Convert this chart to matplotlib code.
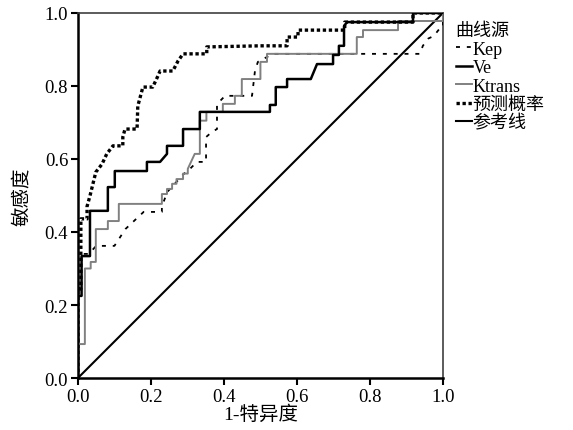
import matplotlib
matplotlib.use("Agg")
import matplotlib.pyplot as plt

plt.rcParams['font.family'] = ['Liberation Serif', 'Noto Sans CJK SC']

# ROC step curves: (1-specificity, sensitivity)
kep_fpr = [0, 0, 0.03, 0.05, 0.10, 0.13, 0.18, 0.23, 0.23, 0.245, 0.29, 0.307, 0.326, 0.351, 0.351,
           0.367, 0.381, 0.381, 0.403, 0.477, 0.485, 0.493, 0.534, 0.937, 0.945, 0.96, 0.975, 0.99, 1.0, 1.0]
kep_tpr = [0, 0.34, 0.34, 0.362, 0.362, 0.408, 0.455, 0.455, 0.47, 0.51, 0.559, 0.573, 0.592, 0.592, 0.66,
           0.674, 0.682, 0.75, 0.773, 0.773, 0.841, 0.866, 0.888, 0.888, 0.91, 0.93, 0.937, 0.956, 0.96, 1.0]

ve_fpr = [0, 0, 0.01, 0.01, 0.033, 0.033, 0.082, 0.082, 0.101, 0.101, 0.189, 0.189, 0.225, 0.244, 0.244,
          0.288, 0.288, 0.334, 0.334, 0.526, 0.526, 0.542, 0.542, 0.573, 0.573, 0.638, 0.655, 0.699, 0.699,
          0.715, 0.715, 0.729, 0.729, 0.737, 0.918, 0.918, 1.0]
ve_tpr = [0, 0.225, 0.225, 0.334, 0.334, 0.458, 0.458, 0.523, 0.523, 0.567, 0.567, 0.592, 0.592, 0.614, 0.636,
          0.636, 0.682, 0.682, 0.729, 0.729, 0.748, 0.748, 0.797, 0.797, 0.819, 0.819, 0.86, 0.86, 0.885,
          0.885, 0.91, 0.91, 0.964, 0.975, 0.975, 1.0, 1.0]

ktrans_fpr = [0, 0, 0.019, 0.019, 0.035, 0.035, 0.049, 0.049, 0.082, 0.082, 0.112, 0.112, 0.23, 0.23,
              0.244, 0.244, 0.258, 0.258, 0.27, 0.27, 0.288, 0.288, 0.301, 0.301, 0.32, 0.334, 0.334,
              0.352, 0.352, 0.397, 0.397, 0.43, 0.43, 0.449, 0.449, 0.50, 0.50, 0.518, 0.518, 0.764,
              0.764, 0.781, 0.781, 0.877, 0.877, 1.0, 1.0]
ktrans_tpr = [0, 0.093, 0.093, 0.30, 0.30, 0.318, 0.318, 0.408, 0.408, 0.43, 0.43, 0.477, 0.477, 0.504,
              0.504, 0.518, 0.518, 0.532, 0.532, 0.545, 0.545, 0.56, 0.56, 0.573, 0.614, 0.614, 0.705,
              0.705, 0.729, 0.729, 0.751, 0.751, 0.773, 0.773, 0.819, 0.819, 0.866, 0.866, 0.888, 0.888,
              0.934, 0.934, 0.953, 0.953, 0.978, 0.978, 1.0]

pred_fpr = [0, 0, 0.008, 0.008, 0.025, 0.025, 0.033, 0.049, 0.066, 0.079, 0.096, 0.123, 0.123, 0.129,
            0.162, 0.164, 0.178, 0.205, 0.219, 0.225, 0.26, 0.274, 0.288, 0.353, 0.353, 0.499, 0.573,
            0.573, 0.603, 0.603, 0.731, 0.731, 0.918, 0.918, 1.0]
pred_tpr = [0, 0.244, 0.244, 0.436, 0.436, 0.47, 0.499, 0.564, 0.586, 0.614, 0.636, 0.636, 0.66, 0.682,
            0.682, 0.745, 0.797, 0.797, 0.827, 0.841, 0.841, 0.868, 0.888, 0.888, 0.907, 0.91, 0.91,
            0.934, 0.934, 0.953, 0.953, 0.975, 0.975, 1.0, 1.0]

ref_x = [0, 1]
ref_y = [0, 1]

fig = plt.figure(figsize=(5.73, 4.31), dpi=100)
ax = fig.add_axes([0.136, 0.1206, 0.637, 0.847])

ax.plot(ref_x, ref_y, color='black', lw=1.5, label='参考线', zorder=2)
ax.plot(kep_fpr, kep_tpr, color='black', lw=1.3, linestyle=(0, (2.2, 3.8)), label='Kep', zorder=3)
ax.plot(ktrans_fpr, ktrans_tpr, color='#808080', lw=1.4, label='Ktrans', zorder=3)
ax.plot(ve_fpr, ve_tpr, color='black', lw=1.8, label='Ve', zorder=4)
ax.plot(pred_fpr, pred_tpr, color='black', lw=2.4, linestyle=(0, (1, 0.8)), label='预测概率', zorder=5)

ax.set_xlim(0, 1)
ax.set_ylim(0, 1)
ax.set_xticks([0, 0.2, 0.4, 0.6, 0.8, 1.0])
ax.set_yticks([0, 0.2, 0.4, 0.6, 0.8, 1.0])
ax.set_xticklabels(['0.0', '0.2', '0.4', '0.6', '0.8', '1.0'], fontsize=13.5)
ax.set_yticklabels(['0.0', '0.2', '0.4', '0.6', '0.8', '1.0'], fontsize=13.5)
ax.tick_params(direction='out', length=5, width=1.5, pad=2)
for side in ['left', 'bottom']:
    ax.spines[side].set_linewidth(1.8)
for side in ['top', 'right']:
    ax.spines[side].set_linewidth(1.2)
    ax.spines[side].set_color('#404040')

ax.set_xlabel('1-特异度', fontsize=14, labelpad=0)
ax.set_ylabel('敏感度', fontsize=14, labelpad=10)

handles, labels = ax.get_legend_handles_labels()
order = ['Kep', 'Ve', 'Ktrans', '预测概率', '参考线']
hmap = dict(zip(labels, handles))
leg = fig.legend([hmap[k] for k in order], order, title='曲线源', loc='upper left',
                 bbox_to_anchor=(0.795, 0.946), frameon=False, fontsize=13, title_fontsize=13,
                 handlelength=0.9, handletextpad=0.05, labelspacing=0.08, borderaxespad=0,
                 borderpad=0)
leg._legend_box.align = 'left'

fig.savefig('out.png', dpi=100)
